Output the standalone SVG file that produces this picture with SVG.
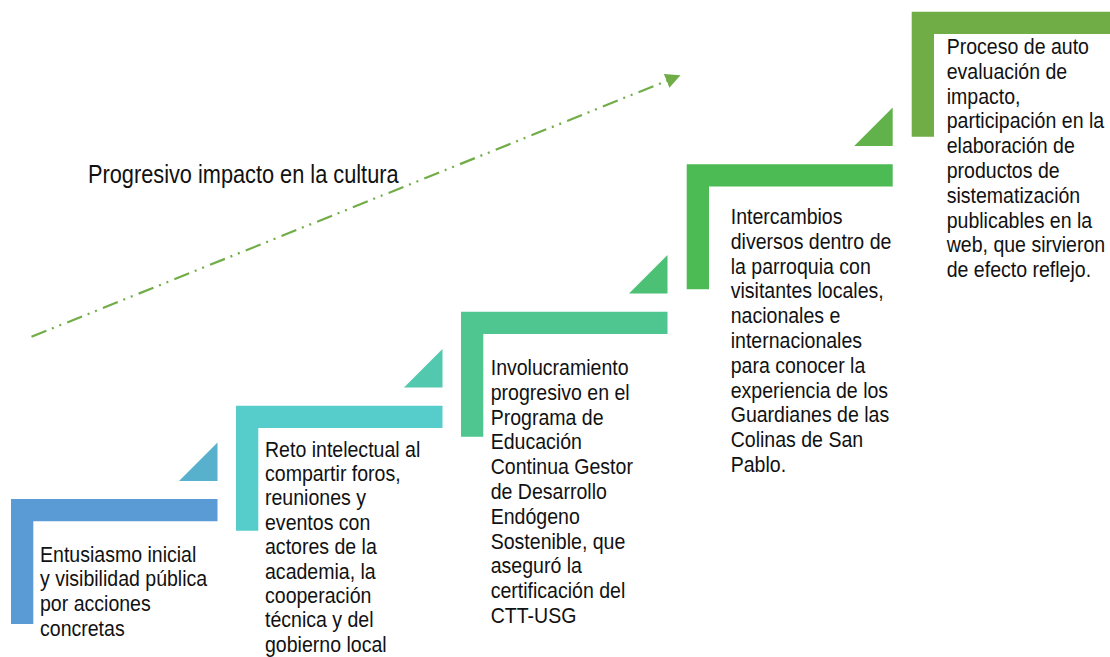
<svg xmlns="http://www.w3.org/2000/svg" width="1110" height="657" viewBox="0 0 1110 657">
  <style>
    .t { font-family: "Liberation Sans", Arial, sans-serif; font-size: 22px; fill: #111111; }
    .title { font-family: "Liberation Sans", Arial, sans-serif; font-size: 25px; fill: #111111; }
    .conn { fill: none; stroke: #70AD47; stroke-width: 2.2; stroke-dasharray: 16 6 2 6 2 6.5; }
  </style>
  <defs>
    <marker id="ah" markerUnits="userSpaceOnUse" markerWidth="17" markerHeight="17" refX="1" refY="7.5" orient="auto">
      <path d="M0,0 L15,7.5 L0,15 z" fill="#70AD47"/>
    </marker>
  </defs>
  <rect width="1110" height="657" fill="#ffffff"/>

  <g id="connectors">
    <line class="conn" x1="31.5" y1="336.8" x2="667.5" y2="80.5" marker-end="url(#ah)"/>
  </g>

  <text class="title" transform="translate(88,183) scale(0.87,1)">Progresivo impacto en la cultura</text>

  <g id="step1">
    <path d="M11,499 h206.5 v22.3 h-184.2 v102.7 h-22.3 z" fill="#5B9BD5"/>
    <path d="M179,481 L217.5,442.5 L217.5,481 z" fill="#57B1CD"/>
    <text class="t" transform="translate(40,561.7) scale(0.888,1)">
      <tspan x="0" y="0">Entusiasmo inicial</tspan>
      <tspan x="0" y="24.8">y visibilidad pública</tspan>
      <tspan x="0" y="49.6">por acciones</tspan>
      <tspan x="0" y="74.4">concretas</tspan>
    </text>
  </g>

  <g id="step2">
    <path d="M236,405.7 h206.5 v22.3 h-184.2 v102.7 h-22.3 z" fill="#56CDCB"/>
    <path d="M404,387.4 L442.5,348.9 L442.5,387.4 z" fill="#52C8AE"/>
    <text class="t" transform="translate(265,456.7) scale(0.888,1)">
      <tspan x="0" y="0">Reto intelectual al</tspan>
      <tspan x="0" y="24.4">compartir foros,</tspan>
      <tspan x="0" y="48.8">reuniones y</tspan>
      <tspan x="0" y="73.2">eventos con</tspan>
      <tspan x="0" y="97.6">actores de la</tspan>
      <tspan x="0" y="122">academia, la</tspan>
      <tspan x="0" y="146.4">cooperación</tspan>
      <tspan x="0" y="170.8">técnica y del</tspan>
      <tspan x="0" y="195.2">gobierno local</tspan>
    </text>
  </g>

  <g id="step3">
    <path d="M461,311.7 h206.5 v22.3 h-184.2 v102.7 h-22.3 z" fill="#4FC690"/>
    <path d="M629,293.4 L667.5,254.9 L667.5,293.4 z" fill="#4CC074"/>
    <text class="t" transform="translate(490.7,375) scale(0.888,1)">
      <tspan x="0" y="0">Involucramiento</tspan>
      <tspan x="0" y="24.8">progresivo en el</tspan>
      <tspan x="0" y="49.6">Programa de</tspan>
      <tspan x="0" y="74.4">Educación</tspan>
      <tspan x="0" y="99.2">Continua Gestor</tspan>
      <tspan x="0" y="124">de Desarrollo</tspan>
      <tspan x="0" y="148.8">Endógeno</tspan>
      <tspan x="0" y="173.6">Sostenible, que</tspan>
      <tspan x="0" y="198.4">aseguró la</tspan>
      <tspan x="0" y="223.2">certificación del</tspan>
      <tspan x="0" y="248">CTT-USG</tspan>
    </text>
  </g>

  <g id="step4">
    <path d="M686.7,164.3 h206 v22.3 h-183.7 v102.7 h-22.3 z" fill="#4CBB53"/>
    <path d="M854.2,146 L892.7,107.5 L892.7,146 z" fill="#62B24B"/>
    <text class="t" transform="translate(730.7,224) scale(0.888,1)">
      <tspan x="0" y="0">Intercambios</tspan>
      <tspan x="0" y="24.8">diversos dentro de</tspan>
      <tspan x="0" y="49.6">la parroquia con</tspan>
      <tspan x="0" y="74.4">visitantes locales,</tspan>
      <tspan x="0" y="99.2">nacionales e</tspan>
      <tspan x="0" y="124">internacionales</tspan>
      <tspan x="0" y="148.8">para conocer la</tspan>
      <tspan x="0" y="173.6">experiencia de los</tspan>
      <tspan x="0" y="198.4">Guardianes de las</tspan>
      <tspan x="0" y="223.2">Colinas de San</tspan>
      <tspan x="0" y="248">Pablo.</tspan>
    </text>
  </g>

  <g id="step5">
    <path d="M911.7,11.7 h206.5 v22.3 h-184.2 v102.7 h-22.3 z" fill="#70AD47"/>
    <text class="t" transform="translate(946.7,54) scale(0.888,1)">
      <tspan x="0" y="0">Proceso de auto</tspan>
      <tspan x="0" y="24.8">evaluación de</tspan>
      <tspan x="0" y="49.6">impacto,</tspan>
      <tspan x="0" y="74.4">participación en la</tspan>
      <tspan x="0" y="99.2">elaboración de</tspan>
      <tspan x="0" y="124">productos de</tspan>
      <tspan x="0" y="148.8">sistematización</tspan>
      <tspan x="0" y="173.6">publicables en la</tspan>
      <tspan x="0" y="198.4">web, que sirvieron</tspan>
      <tspan x="0" y="223.2">de efecto reflejo.</tspan>
    </text>
  </g>
</svg>
